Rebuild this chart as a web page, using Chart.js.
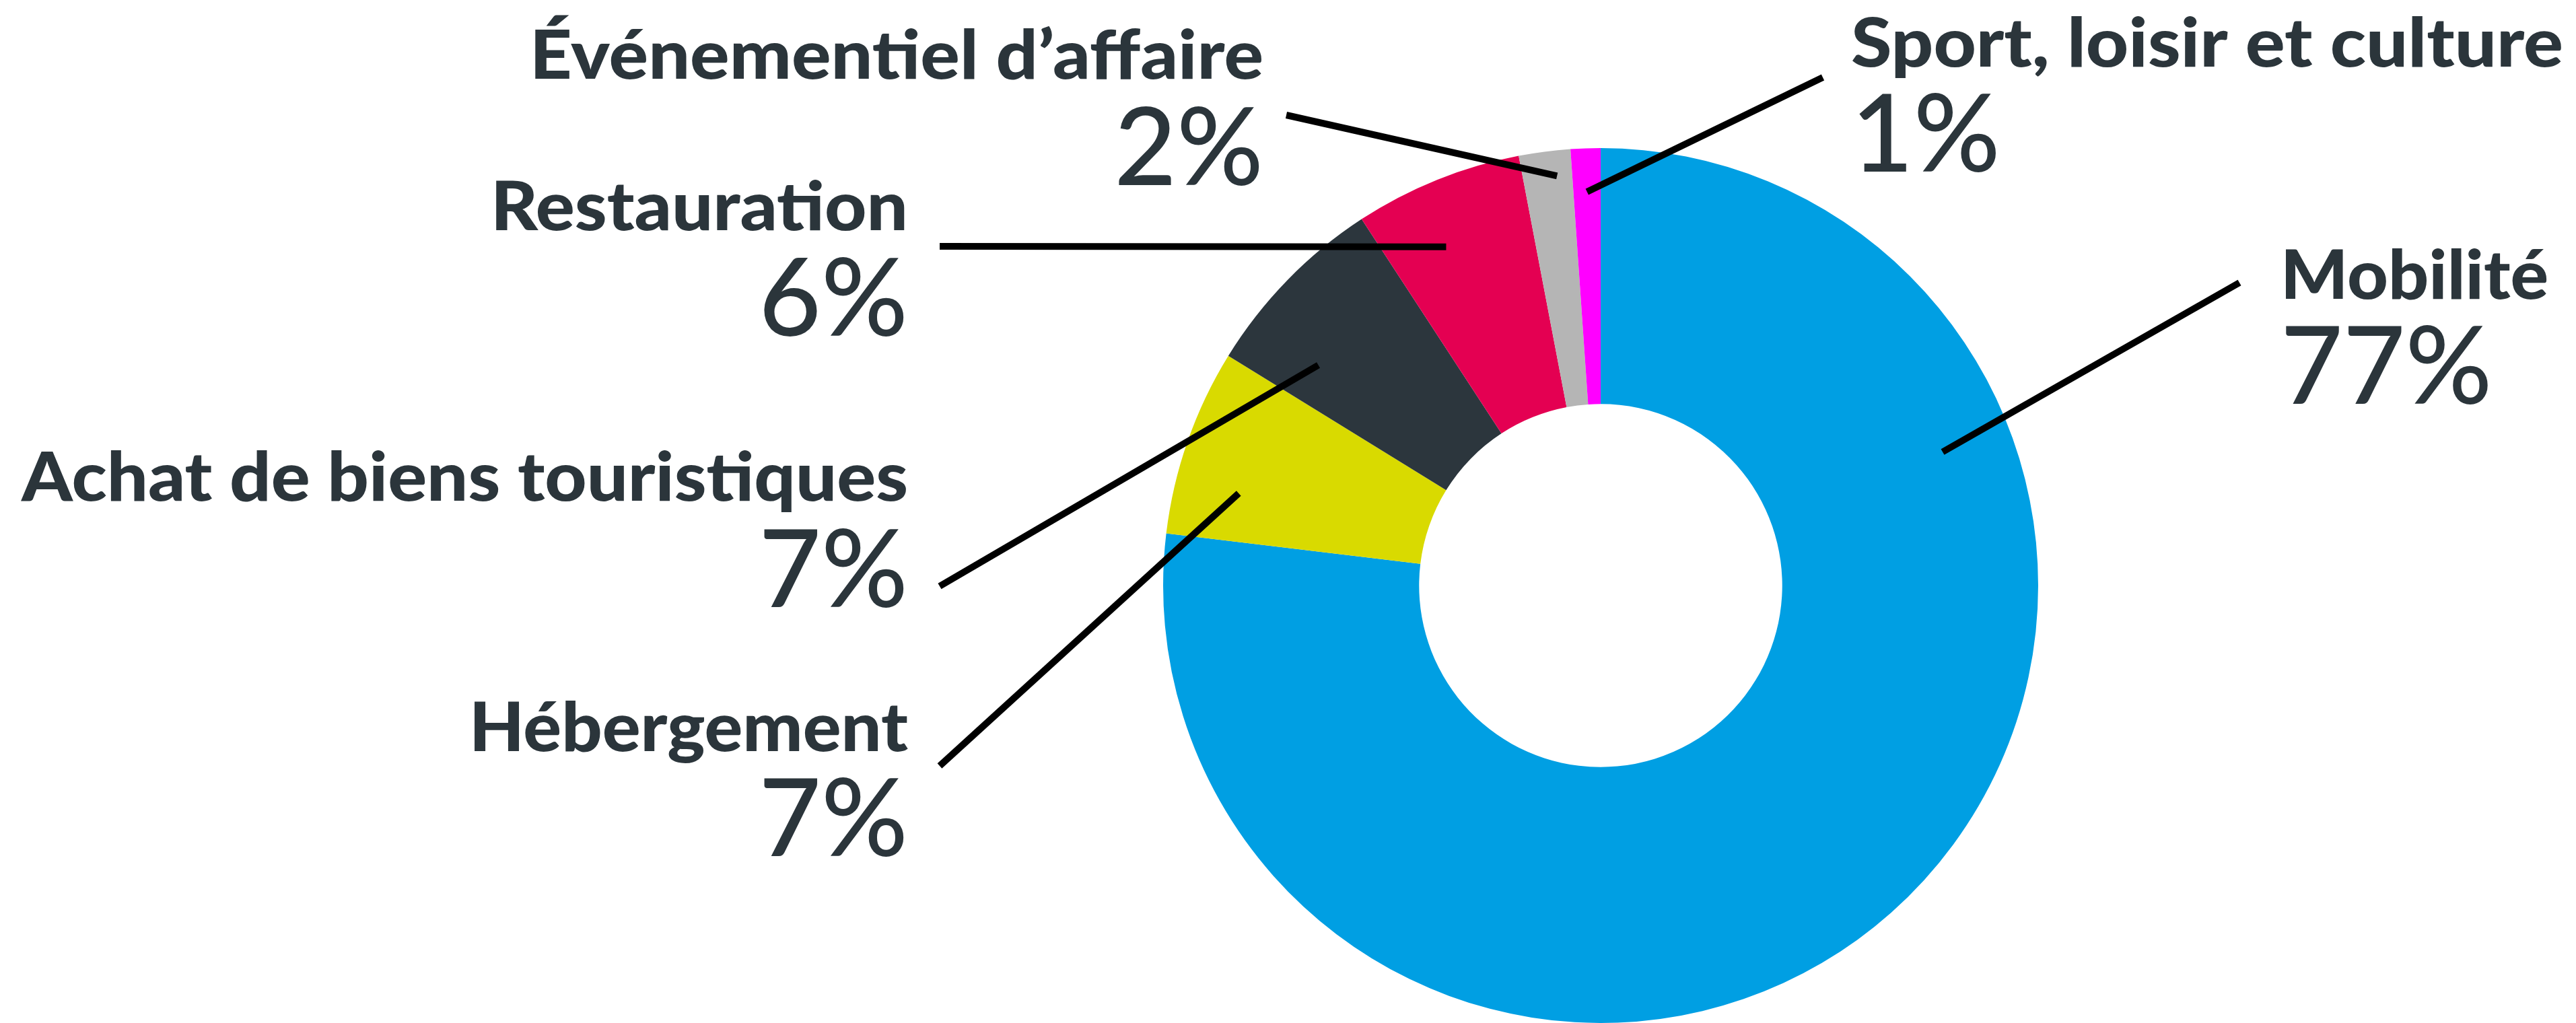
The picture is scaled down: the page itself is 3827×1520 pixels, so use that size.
<!DOCTYPE html>
<html lang="fr">
<head>
    <meta charset="UTF-8">
    <title>Répartition</title>
    <script src="https://cdn.jsdelivr.net/npm/chart.js"></script>
    <style>
        body{
            margin: 0;
            background: #ffffff;
        }
        #wrap{
            width: 3827px;
            height: 1520px;
            position: relative;
        }
    </style>
</head>
<body>
    <div id="wrap">
        <canvas id="graf-donut"></canvas>
    </div>

    <script>
        // data
        const categories = ["Mobilité", "Hébergement", "Achat de biens touristiques", "Restauration", "Événementiel d’affaire", "Sport, loisir et culture"]
        const values = [76.9, 6.9, 7.0, 6.2, 1.9, 1.1]
        const pctLabels = ["77%", "7%", "7%", "6%", "2%", "1%"]
        const colors = ["#009fe3", "#d9da00", "#2c363d", "#e40052", "#b5b5b5", "#ff00ff"]

        const textColor = "#2b353b"

        // where each label sits and where its leader line goes
        // t = position along the slice, f = position across the ring
        // w = width the name takes in the picture
        const labelLayout = [
            {align: "left",  x: 3388, yName: 444,  yPct: 600,  sx: 3327, sy: 420,  t: 0.248, f: 0.725, w: 398},
            {align: "right", x: 1349, yName: 1116, yPct: 1272, sx: 1396, sy: 1138, t: 0.30,  f: 0.75,  w: 652},
            {align: "right", x: 1349, yName: 744,  yPct: 902,  sx: 1396, sy: 871,  t: 0.25,  f: 0.69,  w: 1317},
            {align: "right", x: 1349, yName: 342,  yPct: 499,  sx: 1396, sy: 366,  t: 0.385, f: 0.745, w: 620},
            {align: "right", x: 1877, yName: 117,  yPct: 275,  sx: 1911, sy: 171,  t: 0.69,  f: 0.90,  w: 1090},
            {align: "left",  x: 2750, yName: 99,   yPct: 255,  sx: 2708, sy: 115,  t: 0.5,   f: 0.83,  w: 1058},
        ]

        const leaderPlugin = {
            id: 'leaderLabels',
            afterDatasetsDraw(chart){
                const ctx = chart.ctx
                const arcs = chart.getDatasetMeta(0).data
                ctx.save()
                arcs.forEach((arc, i) => {
                    const lay = labelLayout[i]
                    const p = arc.getProps(['x','y','startAngle','endAngle','innerRadius','outerRadius'], true)
                    const ang = p.startAngle + lay.t * (p.endAngle - p.startAngle)
                    const r = p.innerRadius + lay.f * (p.outerRadius - p.innerRadius)
                    const ex = p.x + Math.cos(ang) * r
                    const ey = p.y + Math.sin(ang) * r

                    ctx.strokeStyle = "#000000"
                    ctx.lineWidth = 10
                    ctx.lineCap = "butt"
                    ctx.beginPath()
                    ctx.moveTo(lay.sx, lay.sy)
                    ctx.lineTo(ex, ey)
                    ctx.stroke()

                    ctx.fillStyle = textColor
                    ctx.textBaseline = "alphabetic"

                    // name, stretched a bit to the width of the original heavy font
                    ctx.font = "900 101px Lato"
                    const nw = ctx.measureText(categories[i]).width
                    const sc = lay.w / nw
                    ctx.save()
                    ctx.translate(lay.x, lay.yName)
                    ctx.scale(sc, 1)
                    ctx.textAlign = lay.align
                    ctx.fillText(categories[i], 0, 0)
                    ctx.restore()

                    ctx.textAlign = lay.align
                    ctx.font = "500 160px Lato"
                    ctx.fillText(pctLabels[i], lay.x, lay.yPct)
                })
                ctx.restore()
            }
        }

        new Chart(document.getElementById('graf-donut'), {
            type: 'doughnut',
            data: {
                labels: categories,
                datasets: [{
                    data: values,
                    backgroundColor: colors,
                    borderWidth: 0,
                    hoverOffset: 0
                }]
            },
            options: {
                responsive: true,
                maintainAspectRatio: false,
                animation: false,
                events: [],
                cutout: '41.5%',
                layout: {
                    padding: {left: 1728, right: 799, top: 220, bottom: 0}
                },
                plugins: {
                    legend: {display: false},
                    tooltip: {enabled: false}
                }
            },
            plugins: [leaderPlugin]
        });
    </script>
</body>
</html>
